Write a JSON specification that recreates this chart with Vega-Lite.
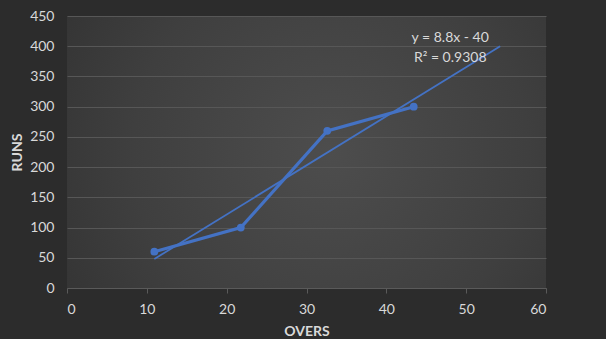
{
  "$schema": "https://vega.github.io/schema/vega-lite/v6.json",
  "width": 479,
  "height": 272,
  "autosize": {"type": "none"},
  "padding": {"left": 67, "top": 16, "right": 60, "bottom": 51},
  "background": "#2c2c2c",
  "config": {
    "view": {
      "stroke": null,
      "fill": {
        "gradient": "radial",
        "x1": 0.55, "y1": 0.5, "r1": 0,
        "x2": 0.55, "y2": 0.5, "r2": 0.75,
        "stops": [
          {"offset": 0, "color": "#4d4d4d"},
          {"offset": 0.55, "color": "#3f3f3f"},
          {"offset": 1, "color": "#2f2f2f"}
        ]
      }
    },
    "font": "Lato",
    "axis": {
      "labelFont": "Lato",
      "labelFontSize": 14,
      "labelColor": "#d9d9d9",
      "titleFont": "Lato",
      "titleFontSize": 14,
      "titleFontWeight": "bold",
      "titleColor": "#d9d9d9"
    },
    "axisY": {
      "title": "RUNS",
      "values": [0, 50, 100, 150, 200, 250, 300, 350, 400, 450],
      "domain": false,
      "ticks": false,
      "gridColor": "#575757",
      "gridWidth": 1,
      "labelPadding": 13,
      "titleX": -50,
      "titleY": 136,
      "titleAngle": -90,
      "titleAlign": "center",
      "titleBaseline": "middle"
    }
  },
  "data": {
    "values": [
      {"overs": 10, "runs": 60},
      {"overs": 20, "runs": 100},
      {"overs": 30, "runs": 260},
      {"overs": 40, "runs": 300}
    ]
  },
  "layer": [
    {
      "mark": {"type": "tick", "opacity": 0},
      "encoding": {
        "x": {
          "field": "overs", "type": "quantitative",
          "scale": {"domain": [0, 60], "nice": false},
          "axis": {
            "title": "OVERS",
            "values": [0, 10, 20, 30, 40, 50, 60],
            "grid": false,
            "domainColor": "#5a5a5a",
            "tickColor": "#5a5a5a",
            "tickSize": 5,
            "labelPadding": 9,
            "titlePadding": 8
          }
        },
        "y": {"field": "runs", "type": "quantitative", "title": "RUNS", "scale": {"domain": [0, 450], "nice": false}}
      }
    },
    {
      "encoding": {
        "x": {
          "field": "overs", "type": "quantitative",
          "scale": {"domain": [-0.1, 55.3], "nice": false, "zero": false},
          "axis": null
        },
        "y": {"field": "runs", "type": "quantitative", "title": "RUNS", "scale": {"domain": [0, 450], "nice": false}}
      },
      "layer": [
        {
          "transform": [
            {"regression": "runs", "on": "overs", "extent": [10, 50]}
          ],
          "mark": {"type": "line", "color": "#4472c4", "strokeWidth": 1.8}
        },
        {
          "mark": {"type": "line", "color": "#4472c4", "strokeWidth": 3.2, "point": {"filled": true, "size": 60, "color": "#4472c4"}}
        }
      ]
    },
    {
      "data": {"values": [{"label": ["y = 8.8x - 40", "R² = 0.9308"]}]},
      "mark": {"type": "text", "color": "#d9d9d9", "font": "Lato", "fontSize": 14, "align": "center", "baseline": "middle", "lineHeight": 20},
      "encoding": {
        "text": {"field": "label"},
        "x": {"datum": 48, "type": "quantitative", "scale": {"domain": [0, 60], "nice": false}, "axis": null},
        "y": {"datum": 414, "type": "quantitative", "title": "RUNS", "scale": {"domain": [0, 450], "nice": false}}
      }
    }
  ],
  "resolve": {"scale": {"x": "independent"}, "axis": {"x": "independent"}}
}
